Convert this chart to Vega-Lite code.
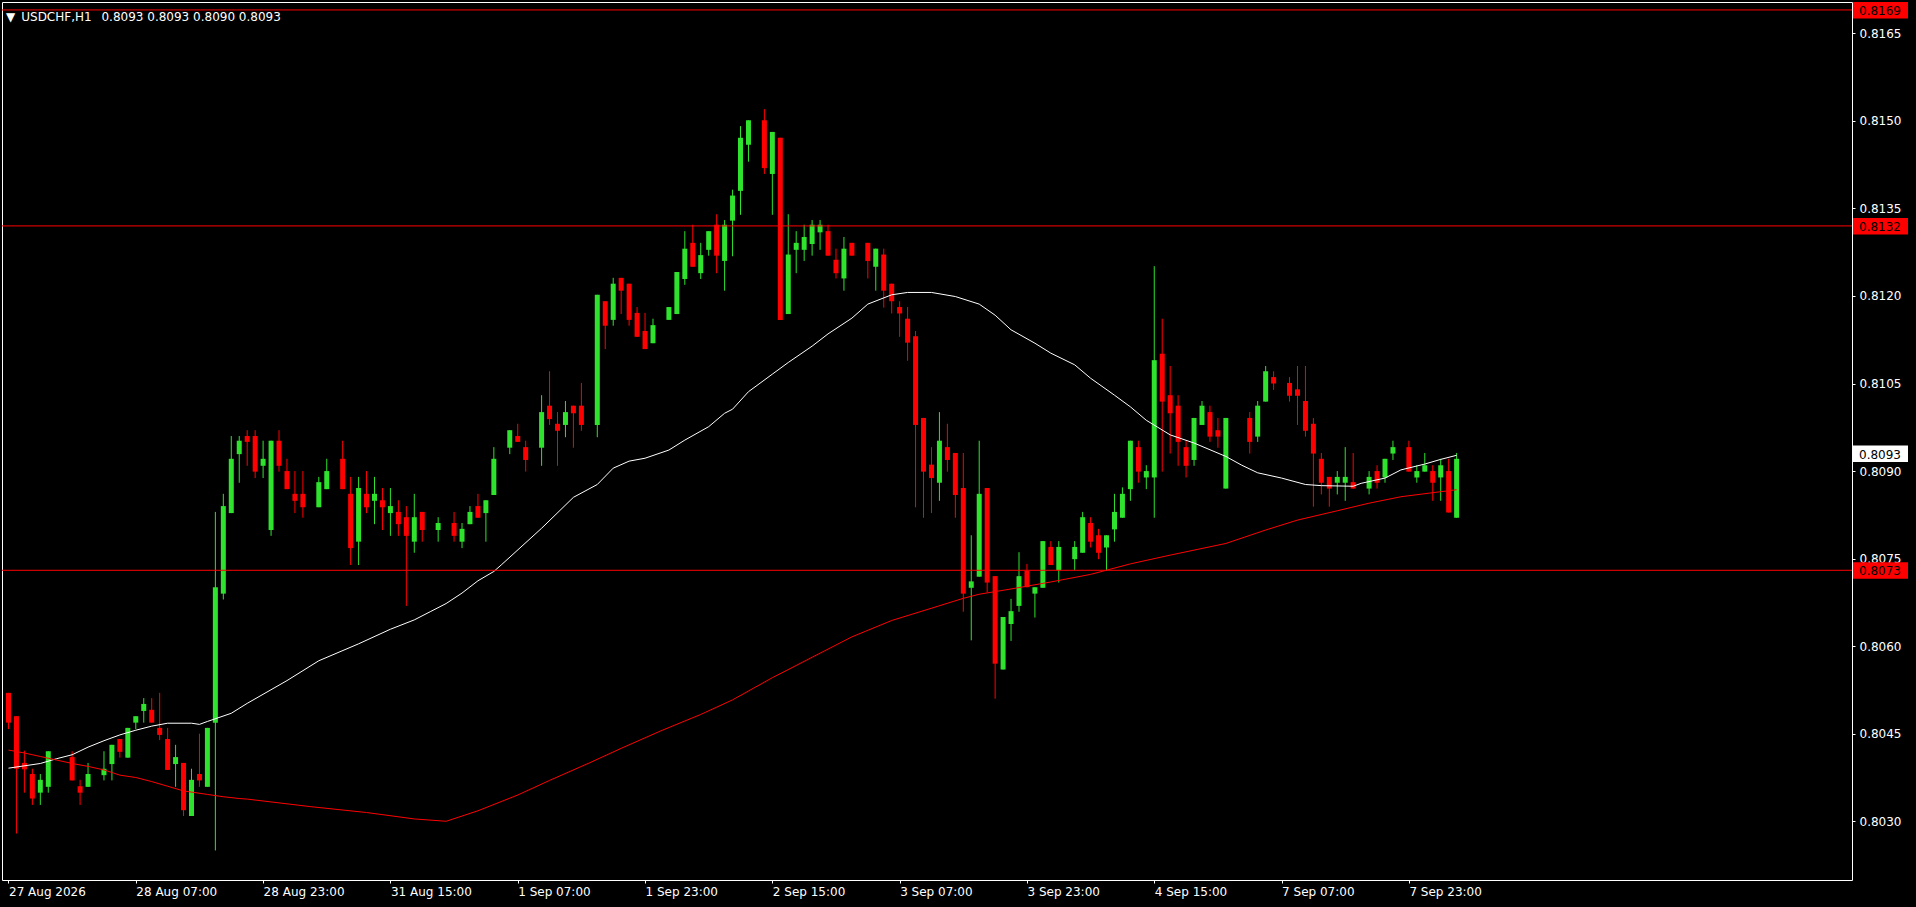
{
  "$schema": "https://vega.github.io/schema/vega-lite/v6.json",
  "width": 1850,
  "height": 878,
  "autosize": {"type": "none"},
  "padding": {"left": 2, "top": 2, "right": 64, "bottom": 27},
  "background": "#000000",
  "view": {"stroke": "#ffffff", "strokeWidth": 1},
  "title": {
    "text": "▼\u2002USDCHF,H1\u2002 0.8093 0.8093 0.8090 0.8093",
    "anchor": "start", "frame": "group", "orient": "top",
    "offset": -17, "baseline": "alphabetic", "dx": 4, "dy": 14,
    "color": "#ffffff", "font": "DejaVu Sans", "fontSize": 12, "fontWeight": "normal"
  },
  "config": {
    "axis": {"domain": false, "grid": false, "labelColor": "#ffffff", "tickColor": "#ffffff", "labelFont": "DejaVu Sans", "labelFontSize": 12, "tickSize": 3, "title": null}
  },
  "datasets": {
    "candles": [
      {"i":0,"o":0.8052,"h":0.8052,"l":0.80458,"c":0.80469},
      {"i":1,"o":0.8048,"h":0.8048,"l":0.80279,"c":0.8039},
      {"i":2,"o":0.804,"h":0.80421,"l":0.80349,"c":0.80389},
      {"i":3,"o":0.80381,"h":0.8039,"l":0.80328,"c":0.80339},
      {"i":4,"o":0.80349,"h":0.80381,"l":0.80328,"c":0.80371},
      {"i":5,"o":0.80359,"h":0.8042,"l":0.80349,"c":0.8042},
      {"i":8,"o":0.8041,"h":0.8042,"l":0.8037,"c":0.8037},
      {"i":9,"o":0.8036,"h":0.80371,"l":0.80328,"c":0.80349},
      {"i":10,"o":0.80359,"h":0.804,"l":0.80359,"c":0.80381},
      {"i":12,"o":0.80379,"h":0.8042,"l":0.8037,"c":0.8039},
      {"i":13,"o":0.80398,"h":0.80431,"l":0.8037,"c":0.80431},
      {"i":14,"o":0.80441,"h":0.80441,"l":0.80409,"c":0.80419},
      {"i":15,"o":0.80409,"h":0.8046,"l":0.80409,"c":0.8046},
      {"i":16,"o":0.80469,"h":0.8048,"l":0.80458,"c":0.8048},
      {"i":17,"o":0.80489,"h":0.80511,"l":0.80469,"c":0.80501},
      {"i":18,"o":0.80491,"h":0.80511,"l":0.80469,"c":0.80469},
      {"i":19,"o":0.8046,"h":0.8052,"l":0.80439,"c":0.80448},
      {"i":20,"o":0.80441,"h":0.8046,"l":0.80388,"c":0.80388},
      {"i":21,"o":0.80398,"h":0.80431,"l":0.80359,"c":0.8041},
      {"i":22,"o":0.804,"h":0.804,"l":0.80309,"c":0.80319},
      {"i":23,"o":0.80309,"h":0.8039,"l":0.80309,"c":0.80371},
      {"i":24,"o":0.80381,"h":0.8045,"l":0.80359,"c":0.8037},
      {"i":25,"o":0.80359,"h":0.8046,"l":0.80359,"c":0.8046},
      {"i":26,"o":0.80469,"h":0.8083,"l":0.8025,"c":0.80701},
      {"i":27,"o":0.8069,"h":0.80861,"l":0.8068,"c":0.8084},
      {"i":28,"o":0.80828,"h":0.8096,"l":0.80828,"c":0.80921},
      {"i":29,"o":0.80929,"h":0.8096,"l":0.8088,"c":0.80952},
      {"i":30,"o":0.8096,"h":0.8097,"l":0.80909,"c":0.8095},
      {"i":31,"o":0.8096,"h":0.8097,"l":0.80888,"c":0.80899},
      {"i":32,"o":0.80909,"h":0.80952,"l":0.80888,"c":0.80921},
      {"i":33,"o":0.80799,"h":0.80952,"l":0.80789,"c":0.80952},
      {"i":34,"o":0.80952,"h":0.8097,"l":0.80899,"c":0.80909},
      {"i":35,"o":0.809,"h":0.80921,"l":0.80869,"c":0.80869},
      {"i":36,"o":0.80861,"h":0.809,"l":0.80828,"c":0.80849},
      {"i":37,"o":0.80861,"h":0.809,"l":0.8082,"c":0.80838},
      {"i":39,"o":0.80838,"h":0.8089,"l":0.80838,"c":0.80881},
      {"i":40,"o":0.80869,"h":0.80921,"l":0.80869,"c":0.809},
      {"i":42,"o":0.80921,"h":0.80952,"l":0.80869,"c":0.80869},
      {"i":43,"o":0.80861,"h":0.8089,"l":0.80739,"c":0.80768},
      {"i":44,"o":0.80779,"h":0.8089,"l":0.80739,"c":0.80871},
      {"i":45,"o":0.80861,"h":0.809,"l":0.80828,"c":0.80838},
      {"i":46,"o":0.80849,"h":0.8089,"l":0.80809,"c":0.80861},
      {"i":47,"o":0.8085,"h":0.80871,"l":0.80799,"c":0.80838},
      {"i":48,"o":0.80828,"h":0.80871,"l":0.80789,"c":0.8084},
      {"i":49,"o":0.8083,"h":0.8085,"l":0.80789,"c":0.80809},
      {"i":50,"o":0.80821,"h":0.8084,"l":0.80669,"c":0.80789},
      {"i":51,"o":0.80779,"h":0.80861,"l":0.8076,"c":0.80821},
      {"i":52,"o":0.8083,"h":0.8083,"l":0.80779,"c":0.80799},
      {"i":54,"o":0.80799,"h":0.80821,"l":0.80779,"c":0.80811},
      {"i":56,"o":0.80811,"h":0.8083,"l":0.80779,"c":0.80789},
      {"i":57,"o":0.80779,"h":0.80811,"l":0.80768,"c":0.80801},
      {"i":58,"o":0.80809,"h":0.8084,"l":0.80809,"c":0.8083},
      {"i":59,"o":0.8084,"h":0.80861,"l":0.8082,"c":0.8082},
      {"i":60,"o":0.80828,"h":0.8085,"l":0.80779,"c":0.8085},
      {"i":61,"o":0.80859,"h":0.80941,"l":0.80859,"c":0.80921},
      {"i":63,"o":0.8094,"h":0.8097,"l":0.80929,"c":0.8097},
      {"i":64,"o":0.8096,"h":0.80981,"l":0.8095,"c":0.8095},
      {"i":65,"o":0.80941,"h":0.80952,"l":0.80899,"c":0.80919},
      {"i":67,"o":0.8094,"h":0.8103,"l":0.80909,"c":0.81001},
      {"i":68,"o":0.81012,"h":0.81071,"l":0.80979,"c":0.80989},
      {"i":69,"o":0.80981,"h":0.81001,"l":0.80909,"c":0.80969},
      {"i":70,"o":0.80979,"h":0.8102,"l":0.80958,"c":0.81001},
      {"i":71,"o":0.81012,"h":0.81012,"l":0.8094,"c":0.80999},
      {"i":72,"o":0.81012,"h":0.81051,"l":0.80969,"c":0.80979},
      {"i":74,"o":0.80979,"h":0.81202,"l":0.80958,"c":0.81202},
      {"i":75,"o":0.81191,"h":0.81191,"l":0.81109,"c":0.81149},
      {"i":76,"o":0.81159,"h":0.81231,"l":0.81149,"c":0.81221},
      {"i":77,"o":0.81231,"h":0.81231,"l":0.81169,"c":0.81209},
      {"i":78,"o":0.81221,"h":0.81221,"l":0.81149,"c":0.81159},
      {"i":79,"o":0.81171,"h":0.81181,"l":0.8113,"c":0.8113},
      {"i":80,"o":0.8114,"h":0.81171,"l":0.81109,"c":0.81109},
      {"i":81,"o":0.81119,"h":0.81161,"l":0.81119,"c":0.8115},
      {"i":83,"o":0.81159,"h":0.81181,"l":0.81159,"c":0.81181},
      {"i":84,"o":0.81169,"h":0.81241,"l":0.81169,"c":0.81241},
      {"i":85,"o":0.81229,"h":0.81311,"l":0.81219,"c":0.81281},
      {"i":86,"o":0.81291,"h":0.81322,"l":0.8125,"c":0.8125},
      {"i":87,"o":0.81239,"h":0.81291,"l":0.81229,"c":0.8127},
      {"i":88,"o":0.81279,"h":0.81311,"l":0.81269,"c":0.81311},
      {"i":89,"o":0.81322,"h":0.8134,"l":0.81239,"c":0.81269},
      {"i":90,"o":0.8126,"h":0.8133,"l":0.81209,"c":0.81322},
      {"i":91,"o":0.81329,"h":0.81382,"l":0.81268,"c":0.81372},
      {"i":92,"o":0.8138,"h":0.81491,"l":0.81339,"c":0.81471},
      {"i":93,"o":0.81459,"h":0.81501,"l":0.8143,"c":0.81501},
      {"i":95,"o":0.81501,"h":0.8152,"l":0.81409,"c":0.81419},
      {"i":96,"o":0.81409,"h":0.81481,"l":0.81339,"c":0.81481},
      {"i":97,"o":0.81471,"h":0.81471,"l":0.81159,"c":0.81159},
      {"i":98,"o":0.81169,"h":0.8134,"l":0.81169,"c":0.81271},
      {"i":99,"o":0.81279,"h":0.81311,"l":0.81239,"c":0.81291},
      {"i":100,"o":0.81279,"h":0.81322,"l":0.8126,"c":0.81301},
      {"i":101,"o":0.81289,"h":0.8133,"l":0.81269,"c":0.81322},
      {"i":102,"o":0.81309,"h":0.8133,"l":0.81279,"c":0.81322},
      {"i":103,"o":0.81311,"h":0.81322,"l":0.81269,"c":0.81269},
      {"i":104,"o":0.81262,"h":0.81281,"l":0.8123,"c":0.81239},
      {"i":105,"o":0.8123,"h":0.81301,"l":0.81209,"c":0.81281},
      {"i":106,"o":0.81291,"h":0.81291,"l":0.81269,"c":0.81269},
      {"i":108,"o":0.81291,"h":0.81291,"l":0.8123,"c":0.8126},
      {"i":109,"o":0.8125,"h":0.81281,"l":0.81209,"c":0.81281},
      {"i":110,"o":0.81271,"h":0.81281,"l":0.8118,"c":0.81209},
      {"i":111,"o":0.81221,"h":0.81221,"l":0.8117,"c":0.81191},
      {"i":112,"o":0.81181,"h":0.81191,"l":0.8113,"c":0.8117},
      {"i":113,"o":0.81161,"h":0.81181,"l":0.81089,"c":0.8112},
      {"i":114,"o":0.81131,"h":0.8114,"l":0.80838,"c":0.80979},
      {"i":115,"o":0.80991,"h":0.80991,"l":0.8082,"c":0.80899},
      {"i":116,"o":0.80911,"h":0.80941,"l":0.80828,"c":0.80888},
      {"i":117,"o":0.8088,"h":0.81001,"l":0.80849,"c":0.80952},
      {"i":118,"o":0.80941,"h":0.80981,"l":0.80899,"c":0.80919},
      {"i":119,"o":0.80931,"h":0.80931,"l":0.8082,"c":0.80859},
      {"i":120,"o":0.80871,"h":0.80931,"l":0.80659,"c":0.8069},
      {"i":121,"o":0.807,"h":0.8079,"l":0.8061,"c":0.80711},
      {"i":122,"o":0.80719,"h":0.80952,"l":0.80719,"c":0.80861},
      {"i":123,"o":0.80871,"h":0.80871,"l":0.80692,"c":0.80709},
      {"i":124,"o":0.8072,"h":0.8072,"l":0.8051,"c":0.8057},
      {"i":125,"o":0.8056,"h":0.8065,"l":0.8056,"c":0.8065},
      {"i":126,"o":0.80638,"h":0.80681,"l":0.80609,"c":0.8066},
      {"i":127,"o":0.80669,"h":0.80761,"l":0.80659,"c":0.8072},
      {"i":128,"o":0.80729,"h":0.80741,"l":0.80701,"c":0.80701},
      {"i":129,"o":0.8069,"h":0.80701,"l":0.80649,"c":0.80701},
      {"i":130,"o":0.807,"h":0.8078,"l":0.807,"c":0.8078},
      {"i":131,"o":0.8077,"h":0.8078,"l":0.80739,"c":0.80739},
      {"i":132,"o":0.8073,"h":0.8078,"l":0.80709,"c":0.8077},
      {"i":134,"o":0.80749,"h":0.8078,"l":0.8073,"c":0.8077},
      {"i":135,"o":0.8076,"h":0.8083,"l":0.8076,"c":0.80821},
      {"i":136,"o":0.80811,"h":0.80821,"l":0.80769,"c":0.80779},
      {"i":137,"o":0.8079,"h":0.80801,"l":0.80749,"c":0.8076},
      {"i":138,"o":0.80769,"h":0.8079,"l":0.8073,"c":0.8079},
      {"i":139,"o":0.808,"h":0.80861,"l":0.80779,"c":0.8083},
      {"i":140,"o":0.8082,"h":0.80872,"l":0.8082,"c":0.80861},
      {"i":141,"o":0.80869,"h":0.80952,"l":0.80849,"c":0.80952},
      {"i":142,"o":0.80941,"h":0.80952,"l":0.8088,"c":0.80899},
      {"i":143,"o":0.80889,"h":0.8091,"l":0.80869,"c":0.809},
      {"i":144,"o":0.80889,"h":0.81251,"l":0.8082,"c":0.8109},
      {"i":145,"o":0.81101,"h":0.81161,"l":0.80899,"c":0.81019},
      {"i":146,"o":0.8103,"h":0.8108,"l":0.8093,"c":0.80999},
      {"i":147,"o":0.81012,"h":0.8103,"l":0.80909,"c":0.8095},
      {"i":148,"o":0.80941,"h":0.80952,"l":0.80889,"c":0.80909},
      {"i":149,"o":0.80919,"h":0.80991,"l":0.80909,"c":0.80991},
      {"i":150,"o":0.80979,"h":0.8102,"l":0.80979,"c":0.81012},
      {"i":151,"o":0.81001,"h":0.81012,"l":0.8095,"c":0.80959},
      {"i":152,"o":0.8097,"h":0.80991,"l":0.8094,"c":0.80959},
      {"i":153,"o":0.8087,"h":0.80991,"l":0.8087,"c":0.80991},
      {"i":156,"o":0.80991,"h":0.81001,"l":0.8093,"c":0.8095},
      {"i":157,"o":0.80959,"h":0.8102,"l":0.8095,"c":0.81012},
      {"i":158,"o":0.81019,"h":0.8108,"l":0.81019,"c":0.81071},
      {"i":159,"o":0.81061,"h":0.81071,"l":0.81039,"c":0.8105},
      {"i":161,"o":0.81051,"h":0.81061,"l":0.81019,"c":0.81029},
      {"i":162,"o":0.8104,"h":0.8108,"l":0.80979,"c":0.81029},
      {"i":163,"o":0.8102,"h":0.8108,"l":0.80959,"c":0.80969},
      {"i":164,"o":0.80981,"h":0.80991,"l":0.80839,"c":0.8093},
      {"i":165,"o":0.80921,"h":0.80931,"l":0.8086,"c":0.8088},
      {"i":166,"o":0.8089,"h":0.8089,"l":0.80839,"c":0.8087},
      {"i":167,"o":0.8088,"h":0.809,"l":0.8086,"c":0.8089},
      {"i":168,"o":0.8088,"h":0.80941,"l":0.80849,"c":0.8089},
      {"i":169,"o":0.80881,"h":0.80931,"l":0.8087,"c":0.8087},
      {"i":171,"o":0.8087,"h":0.809,"l":0.8086,"c":0.8089},
      {"i":172,"o":0.809,"h":0.8091,"l":0.8087,"c":0.8088},
      {"i":173,"o":0.80889,"h":0.80921,"l":0.8088,"c":0.80921},
      {"i":174,"o":0.8093,"h":0.80952,"l":0.80919,"c":0.80941},
      {"i":176,"o":0.80941,"h":0.80952,"l":0.80899,"c":0.80899},
      {"i":177,"o":0.80889,"h":0.8091,"l":0.8088,"c":0.809},
      {"i":178,"o":0.80899,"h":0.80931,"l":0.80899,"c":0.8091},
      {"i":179,"o":0.809,"h":0.8091,"l":0.80849,"c":0.8088},
      {"i":180,"o":0.80889,"h":0.80921,"l":0.80849,"c":0.8091},
      {"i":181,"o":0.809,"h":0.80921,"l":0.80829,"c":0.80829},
      {"i":182,"o":0.8082,"h":0.80931,"l":0.8082,"c":0.80921}
    ],
    "maWhite": [
      {"i":0,"v":0.80391},{"i":4,"v":0.80399},{"i":6,"v":0.80407},{"i":8,"v":0.80414},{"i":10,"v":0.80427},
      {"i":12,"v":0.80438},{"i":14,"v":0.80448},{"i":16,"v":0.80456},{"i":18,"v":0.80463},{"i":20,"v":0.80468},
      {"i":23,"v":0.80468},{"i":24,"v":0.80466},{"i":25,"v":0.80471},{"i":28,"v":0.80485},{"i":30,"v":0.80502},
      {"i":35,"v":0.80541},{"i":39,"v":0.80575},{"i":44,"v":0.80604},{"i":48,"v":0.80629},{"i":51,"v":0.80645},
      {"i":53,"v":0.80659},{"i":55,"v":0.80673},{"i":57,"v":0.80691},{"i":59,"v":0.80712},{"i":61,"v":0.80728},
      {"i":62,"v":0.8074},{"i":67,"v":0.80802},{"i":71,"v":0.80855},{"i":74,"v":0.80877},{"i":76,"v":0.80905},
      {"i":78,"v":0.80917},{"i":80,"v":0.80922},{"i":83,"v":0.80936},{"i":85,"v":0.80953},{"i":88,"v":0.80976},
      {"i":90,"v":0.80999},{"i":91,"v":0.81006},{"i":93,"v":0.81036},{"i":96,"v":0.81066},{"i":98,"v":0.81086},
      {"i":101,"v":0.81114},{"i":103,"v":0.81135},{"i":106,"v":0.81162},{"i":108,"v":0.81186},{"i":111,"v":0.81202},
      {"i":113,"v":0.81206},{"i":116,"v":0.81206},{"i":119,"v":0.81199},{"i":122,"v":0.81186},{"i":124,"v":0.81167},
      {"i":126,"v":0.81142},{"i":129,"v":0.81119},{"i":131,"v":0.81102},{"i":134,"v":0.81082},{"i":136,"v":0.81059},
      {"i":139,"v":0.8103},{"i":141,"v":0.8101},{"i":143,"v":0.80987},{"i":146,"v":0.80962},{"i":149,"v":0.80948},
      {"i":153,"v":0.80925},{"i":155,"v":0.8091},{"i":157,"v":0.80897},{"i":160,"v":0.80888},{"i":163,"v":0.80877},
      {"i":165,"v":0.80875},{"i":169,"v":0.80874},{"i":170,"v":0.80879},{"i":173,"v":0.80888},{"i":175,"v":0.80902},
      {"i":178,"v":0.80912},{"i":180,"v":0.8092},{"i":182,"v":0.80927}
    ],
    "maRed": [
      {"i":0,"v":0.80422},{"i":2,"v":0.80417},{"i":4,"v":0.80411},{"i":6,"v":0.80405},{"i":8,"v":0.80399},
      {"i":10,"v":0.80394},{"i":12,"v":0.80388},{"i":14,"v":0.80379},{"i":16,"v":0.80375},{"i":18,"v":0.80368},
      {"i":20,"v":0.8036},{"i":22,"v":0.80352},{"i":25,"v":0.80346},{"i":27,"v":0.80342},{"i":29,"v":0.80339},
      {"i":30,"v":0.80338},{"i":38,"v":0.80325},{"i":45,"v":0.80315},{"i":51,"v":0.80304},{"i":55,"v":0.803},
      {"i":59,"v":0.80318},{"i":64,"v":0.80345},{"i":68,"v":0.8037},{"i":73,"v":0.804},{"i":77,"v":0.80425},
      {"i":82,"v":0.80455},{"i":87,"v":0.80483},{"i":91,"v":0.80508},{"i":96,"v":0.80546},{"i":101,"v":0.80581},
      {"i":106,"v":0.80616},{"i":111,"v":0.80644},{"i":116,"v":0.80665},{"i":120,"v":0.80682},{"i":122,"v":0.80689},
      {"i":126,"v":0.80698},{"i":131,"v":0.8071},{"i":136,"v":0.80723},{"i":141,"v":0.80741},{"i":146,"v":0.80756},
      {"i":153,"v":0.80776},{"i":158,"v":0.80799},{"i":162,"v":0.80816},{"i":167,"v":0.80832},{"i":171,"v":0.80845},
      {"i":175,"v":0.80856},{"i":179,"v":0.80863},{"i":182,"v":0.80868}
    ],
    "levels": [{"p":0.8169},{"p":0.8132},{"p":0.8073}],
    "tags": [
      {"p":0.8169,"t":"0.8169","k":"level"},
      {"p":0.8132,"t":"0.8132","k":"level"},
      {"p":0.8073,"t":"0.8073","k":"level"},
      {"p":0.8093,"t":"0.8093","k":"bid"}
    ]
  },
  "layer": [
    {
      "data": {"name": "candles"},
      "mark": {"type": "rule", "strokeWidth": 1},
      "encoding": {
        "x": {"field": "i", "type": "quantitative", "title": null,
              "scale": {"domain": [-0.1875, 231.0625], "nice": false, "zero": false},
              "axis": {"values": [0,16,32,48,64,80,96,112,128,144,160,176],
                       "labelExpr": "['27 Aug 2026','28 Aug 07:00','28 Aug 23:00','31 Aug 15:00','1 Sep 07:00','1 Sep 23:00','2 Sep 15:00','3 Sep 07:00','3 Sep 23:00','4 Sep 15:00','7 Sep 07:00','7 Sep 23:00'][round(datum.value/16)]",
                       "labelAlign": "left", "labelBaseline": "top", "labelPadding": 3, "tickSize": 3,
                       "labelFlush": false, "labelOverlap": false, "labelBound": false}},
        "y": {"field": "l", "type": "quantitative", "title": null,
              "scale": {"domain": [0.801994, 0.817036], "nice": false, "zero": false},
              "axis": {"orient": "right", "values": [0.803,0.8045,0.806,0.8075,0.809,0.8105,0.812,0.8135,0.815,0.8165],
                       "format": ".4f", "labelPadding": 4, "tickSize": 3, "labelBaseline": "middle",
                       "labelFlush": false, "labelOverlap": false}},
        "y2": {"field": "h"},
        "color": {"condition": {"test": "datum.c >= datum.o", "value": "#2ee22e"}, "value": "#ff0000"}
      }
    },
    {
      "data": {"name": "candles"},
      "mark": {"type": "bar", "width": 5, "strokeWidth": 0},
      "encoding": {
        "x": {"field": "i", "type": "quantitative", "title": null},
        "y": {"field": "o", "type": "quantitative", "title": null},
        "y2": {"field": "c"},
        "color": {"condition": {"test": "datum.c >= datum.o", "value": "#2ee22e"}, "value": "#ff0000"}
      }
    },
    {
      "data": {"name": "maWhite"},
      "mark": {"type": "line", "color": "#ffffff", "strokeWidth": 1},
      "encoding": {
        "x": {"field": "i", "type": "quantitative", "title": null},
        "y": {"field": "v", "type": "quantitative", "title": null}
      }
    },
    {
      "data": {"name": "maRed"},
      "mark": {"type": "line", "color": "#ff0000", "strokeWidth": 1},
      "encoding": {
        "x": {"field": "i", "type": "quantitative", "title": null},
        "y": {"field": "v", "type": "quantitative", "title": null}
      }
    },
    {
      "data": {"name": "levels"},
      "mark": {"type": "rule", "color": "#ff0000", "strokeWidth": 1},
      "encoding": {
        "y": {"field": "p", "type": "quantitative", "title": null}
      }
    },
    {
      "data": {"name": "tags"},
      "mark": {"type": "rect", "xOffset": 1, "x2Offset": 56, "yOffset": -8, "y2Offset": 8.5},
      "encoding": {
        "x": {"value": "width"},
        "x2": {"value": "width"},
        "y": {"field": "p", "type": "quantitative", "title": null},
        "y2": {"field": "p"},
        "color": {"field": "k", "type": "nominal", "legend": null,
                  "scale": {"domain": ["level", "bid"], "range": ["#ff0000", "#ffffff"]}}
      }
    },
    {
      "data": {"name": "tags"},
      "mark": {"type": "text", "align": "left", "baseline": "middle", "dx": 7, "dy": 1, "color": "#000000", "font": "DejaVu Sans", "fontSize": 12},
      "encoding": {
        "x": {"value": "width"},
        "y": {"field": "p", "type": "quantitative", "title": null},
        "text": {"field": "t"}
      }
    }
  ]
}
